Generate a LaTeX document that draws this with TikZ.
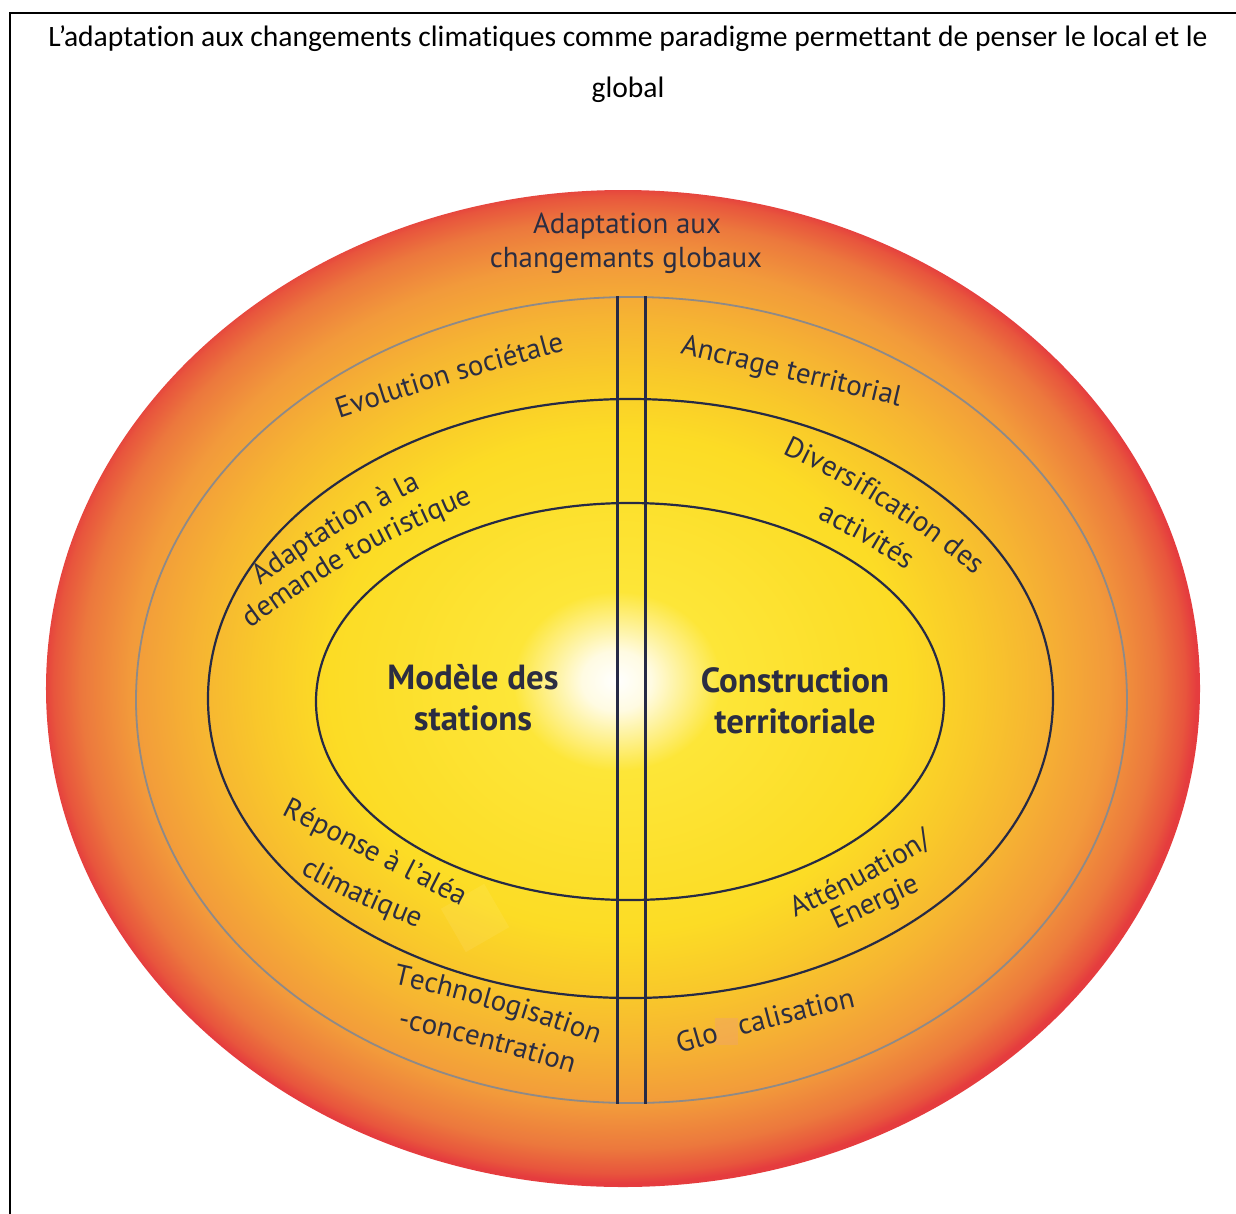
\documentclass[tikz,border=0pt]{standalone}
\usepackage{fontspec}
\setmainfont{PT Sans}
\newfontfamily\titlefont[Ligatures=NoCommon]{Carlito}
\usetikzlibrary{decorations.text}
\definecolor{txt}{HTML}{2B2D42}
\definecolor{navy}{HTML}{262A45}
\definecolor{gry}{HTML}{8E8A88}
\definecolor{s1}{HTML}{FFFBE2}
\definecolor{s2}{HTML}{FDE638}
\definecolor{s3}{HTML}{FCDC25}
\definecolor{s4}{HTML}{F9C92A}
\definecolor{s5}{HTML}{F6B532}
\definecolor{s6}{HTML}{F29A3B}
\definecolor{s7}{HTML}{EC783D}
\definecolor{s8}{HTML}{E8553D}
\definecolor{s9}{HTML}{E53C3E}
\definecolor{patch}{HTML}{EFA272}
\pgfdeclareradialshading{glow}{\pgfpoint{-0.3bp}{0.4bp}}{color(0bp)=(white); color(1.5bp)=(s1); color(4.5bp)=(s2); color(12.5bp)=(s3); color(15.5bp)=(s4); color(18.2bp)=(s5); color(21.2bp)=(s6); color(23.3bp)=(s7); color(24.5bp)=(s8); color(25bp)=(s9); color(50bp)=(s9)}
\newcommand\lblfont{\fontsize{29}{34}\selectfont}
\newcommand\ctrfont{\bfseries\fontsize{35}{40}\selectfont}
\tikzset{
  ringtxt/.style={decorate, decoration={text along path, text align=center, text color=txt, text={|\lblfont|#1}}},
  darkring/.style={draw=navy, line width=2.2bp},
  greyring/.style={draw=gry, line width=1.8bp},
  divider/.style={draw=navy, line width=3bp},
  ctr/.style={font=\ctrfont, text=txt, anchor=base},
  toplbl/.style={font=\lblfont, text=txt, anchor=base},
  frameline/.style={draw=black, line width=2bp}
}
\begin{document}
\begin{tikzpicture}[x=1bp,y=1bp]
\useasboundingbox (0,-1214) rectangle (1236,0);
\fill[white] (0,-1214) rectangle (1236,0);
% frame
\coordinate (fa) at (9,-13);
\coordinate (fb) at (1236,-13);
\coordinate (fc) at (10,-1214);
\draw[frameline] (fb) -- (fa) -- (10,-13) -- (fc);
% title
\node[font=\titlefont\fontsize{29.7}{34}\selectfont, anchor=base] (t1) at (628,-46) {L’adaptation aux changements climatiques comme paradigme permettant de penser le local et le};
\node[font=\titlefont\fontsize{29.7}{34}\selectfont, anchor=base] (t2) at (628,-97) {global};
% shaded disc
\shade[shading=glow] (623,-688.5) ellipse [x radius=577bp, y radius=498.5bp];
% faint patches
\fill[white, opacity=0.07, rotate around={30:(475,-918)}] (450,-893) rectangle (500,-943);
\fill[patch, opacity=0.4] (715,-1018) rectangle (738,-1045);
% rings
\draw[greyring] (631.5,-700) ellipse [x radius=495.5bp, y radius=403bp];
\draw[darkring] (630.5,-698.5) ellipse [x radius=422.5bp, y radius=299.5bp];
\draw[darkring] (630,-701.5) ellipse [x radius=314bp, y radius=198.5bp];
% dividers
\coordinate (d1t) at (617,-296);
\coordinate (d1b) at (617,-1104);
\coordinate (d2t) at (645,-296);
\coordinate (d2b) at (645,-1104);
\draw[divider] (d1t) -- (d1b);
\draw[divider] (d2t) -- (d2b);
% top label
\node[toplbl] (g1) at (627,-233) {Adaptation aux};
\node[toplbl] (g2) at (626,-267) {changemants globaux};
% centre labels
\node[ctr] (m1) at (473,-689) {Modèle des};
\node[ctr] (m2) at (473,-730) {stations};
\node[ctr] (c1) at (795,-692) {Construction};
\node[ctr] (c2) at (795,-733) {territoriale};
% ring labels
\path[ringtxt={Evolution sociétale}] (295,-433) to[bend left=2] (610,-339);
\path[ringtxt={Ancrage territorial}] (638,-344) to[bend left=0] (941,-416);
\path[ringtxt={Diversification des}] (752,-439) to[bend left=8] (1001,-597);
\path[ringtxt={activités}] (776,-500) to[bend left=6] (944,-596);
\path[ringtxt={Adaptation à la}] (227,-610) to[bend left=6] (459,-470);
\path[ringtxt={demande touristique}] (219,-652) to[bend left=8] (510,-488);
\path[ringtxt={Réponse à l'aléa}] (249,-798) to[bend left=0] (494,-923);
\path[ringtxt={climatique}] (266,-854) to[bend right=5] (455,-942);
\path[ringtxt={Technologisation}] (358,-976) to[bend left=4] (631,-1056);
\path[ringtxt={-concentration}] (363,-1020) to[bend left=3] (606,-1084);
\path[ringtxt={Atténuation/}] (760,-933) to[bend right=5] (965,-824);
\path[ringtxt={Energie}] (801,-946) to[bend left=0] (956,-874);
\path[ringtxt={Glo{\kern22bp}calisation}] (643,-1064) to[bend left=2] (893,-998);
\end{tikzpicture}
\end{document}
